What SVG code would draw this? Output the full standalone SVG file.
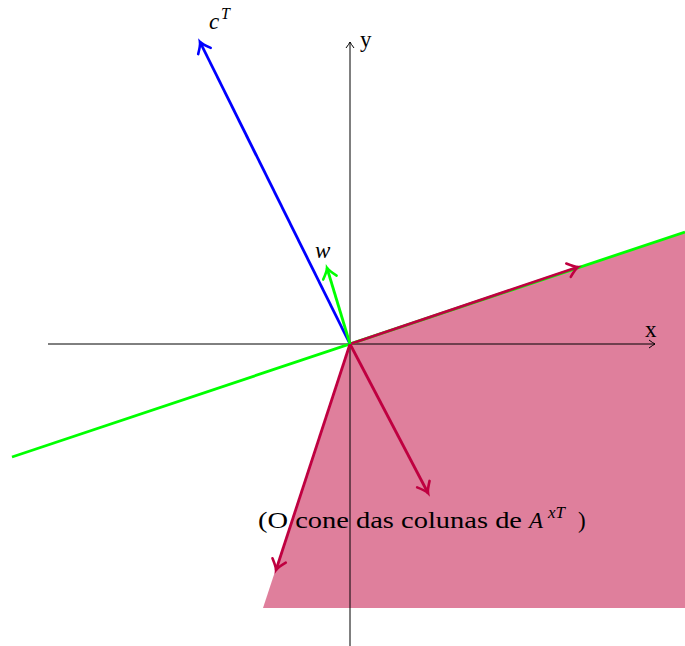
<svg xmlns="http://www.w3.org/2000/svg" width="685" height="646" viewBox="0 0 685 646">
<style>
.ax{stroke:#000;stroke-width:1;fill:none}
.v{stroke-width:2.8;fill:none}
.t{font-family:"Liberation Serif","DejaVu Serif",serif;fill:#000}
.i{font-style:italic}
</style>
<defs>
<marker id="ah" markerUnits="userSpaceOnUse" markerWidth="12" markerHeight="10" refX="0" refY="0" viewBox="-11 -5 12 10" orient="auto" overflow="visible">
<path d="M -6 -4 Q -2 -1 0 0 Q -2 1 -6 4" stroke="#000" stroke-width="1" fill="none"/>
</marker>
<marker id="ar" markerUnits="userSpaceOnUse" markerWidth="16" markerHeight="16" viewBox="-14 -8 16 16" refX="0" refY="0" orient="auto" overflow="visible">
<path d="M -10 -7 Q -3 -1 0 0 Q -3 1 -10 7" stroke="#BF0040" stroke-width="2.6" fill="none" stroke-linecap="round"/>
</marker>
<marker id="ag" markerUnits="userSpaceOnUse" markerWidth="16" markerHeight="16" viewBox="-14 -8 16 16" refX="0" refY="0" orient="auto" overflow="visible">
<path d="M -10 -7 Q -3 -1 0 0 Q -3 1 -10 7" stroke="#00FF00" stroke-width="2.6" fill="none" stroke-linecap="round"/>
</marker>
<marker id="ab" markerUnits="userSpaceOnUse" markerWidth="16" markerHeight="16" viewBox="-14 -8 16 16" refX="0" refY="0" orient="auto" overflow="visible">
<path d="M -10 -7 Q -3 -1 0 0 Q -3 1 -10 7" stroke="#0000FF" stroke-width="2.6" fill="none" stroke-linecap="round"/>
</marker>
</defs>
<g id="cone">
<polygon points="350,344 685,232 685,608 263,608" fill="#DF7F9C"/>
</g>
<g id="axes">
<line class="ax" x1="48" y1="344" x2="655" y2="344" marker-end="url(#ah)"/>
<line class="ax" x1="350" y1="646" x2="350" y2="42" marker-end="url(#ah)"/>
<text class="t" x="645" y="337" font-size="23">x</text>
<text class="t" x="360" y="47" font-size="23">y</text>
</g>
<g id="connectors">
<line class="v" x1="12" y1="457" x2="685" y2="232" stroke="#00FF00"/>
<line class="v" x1="350" y1="344" x2="578" y2="267" stroke="#BF0040" marker-end="url(#ar)"/>
<line class="v" x1="350" y1="344" x2="428" y2="493" stroke="#BF0040" marker-end="url(#ar)"/>
<line class="v" x1="350" y1="344" x2="276" y2="570" stroke="#BF0040" marker-end="url(#ar)"/>
<line class="v" x1="350" y1="344" x2="200" y2="42" stroke="#0000FF" marker-end="url(#ab)"/>
<line class="v" x1="350" y1="344" x2="327" y2="268" stroke="#00FF00" marker-end="url(#ag)"/>
</g>
<g id="labels">
<text class="t i" x="209" y="29" font-size="23">c</text>
<text class="t i" x="221" y="19" font-size="16">T</text>
<text class="t i" x="315" y="258" font-size="23">w</text>
<text class="t" x="258" y="528" font-size="23" textLength="264" lengthAdjust="spacingAndGlyphs">(O cone das colunas de</text>
<text class="t i" x="529" y="528" font-size="23">A</text>
<text class="t i" x="548" y="518" font-size="17">xT</text>
<text class="t" x="578" y="528" font-size="23">)</text>
</g>
</svg>
